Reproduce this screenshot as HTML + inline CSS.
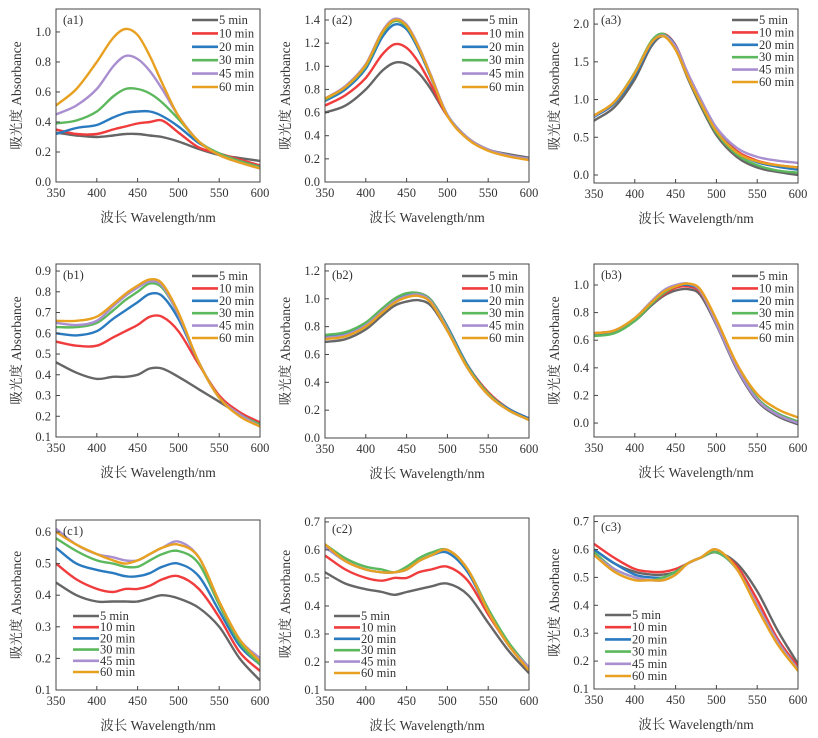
<!DOCTYPE html>
<html><head><meta charset="utf-8">
<style>
html,body{margin:0;padding:0;background:#fff;}
svg{display:block;}
text{font-family:"Liberation Serif","Noto Serif CJK SC",serif;fill:#333;}
</style></head>
<body>
<svg id="fig" width="818" height="738" viewBox="0 0 818 738" xmlns="http://www.w3.org/2000/svg"></svg>
<script>
const wavelengths = [350,375,400,420,435,450,465,480,500,525,550,575,600];
const seriesNames = ["5 min","10 min","20 min","30 min","45 min","60 min"];
const colors = ["#666666","#f03c3c","#2a7ac0","#5cb85c","#a98fd0","#e8a020"];
const xTicks = [350,400,450,500,550,600];

const a1 = [
 [.33,.31,.30,.31,.32,.32,.31,.30,.27,.22,.18,.16,.14],
 [.35,.32,.32,.35,.37,.39,.40,.41,.33,.23,.19,.15,.11],
 [.32,.36,.38,.43,.46,.47,.47,.44,.37,.26,.19,.14,.10],
 [.39,.41,.47,.57,.62,.62,.59,.53,.42,.27,.19,.14,.10],
 [.45,.51,.62,.77,.84,.82,.74,.62,.44,.27,.18,.13,.09],
 [.51,.62,.80,.96,1.02,.98,.84,.66,.44,.27,.18,.13,.09]];
const a2 = [
 [.60,.66,.80,.96,1.03,1.02,.94,.80,.57,.38,.28,.24,.21],
 [.66,.75,.90,1.10,1.19,1.16,1.03,.84,.57,.38,.28,.23,.20],
 [.70,.80,.98,1.25,1.36,1.32,1.14,.90,.58,.38,.28,.23,.20],
 [.71,.82,1.00,1.28,1.39,1.34,1.16,.91,.58,.38,.28,.23,.20],
 [.72,.83,1.02,1.30,1.41,1.36,1.17,.92,.58,.38,.28,.23,.20],
 [.72,.82,1.01,1.29,1.40,1.35,1.16,.91,.57,.37,.27,.22,.19]];
const a3 = [
 [.72,.90,1.27,1.70,1.84,1.66,1.28,.93,.53,.24,.10,.04,.00],
 [.77,.95,1.33,1.74,1.87,1.72,1.34,1.00,.60,.32,.19,.13,.10],
 [.77,.95,1.32,1.73,1.86,1.71,1.33,.99,.59,.30,.17,.11,.07],
 [.78,.97,1.36,1.77,1.87,1.68,1.30,.96,.56,.27,.13,.06,.03],
 [.78,.97,1.35,1.75,1.85,1.70,1.35,1.02,.63,.36,.24,.19,.16],
 [.79,.97,1.35,1.75,1.84,1.66,1.30,.97,.58,.30,.18,.13,.10]];
const b1 = [
 [.46,.41,.38,.39,.39,.40,.43,.43,.39,.33,.27,.21,.16],
 [.56,.54,.54,.58,.61,.64,.68,.68,.61,.45,.30,.22,.17],
 [.60,.59,.61,.67,.71,.75,.79,.78,.67,.46,.29,.21,.16],
 [.63,.63,.65,.71,.76,.80,.84,.82,.69,.46,.29,.21,.16],
 [.65,.64,.66,.73,.78,.82,.85,.83,.69,.46,.29,.21,.15],
 [.66,.66,.68,.74,.79,.83,.86,.84,.70,.46,.29,.20,.15]];
const b2 = [
 [.69,.71,.78,.88,.95,.98,.99,.95,.77,.50,.31,.20,.13],
 [.72,.74,.81,.91,.98,1.02,1.04,.99,.80,.52,.33,.21,.14],
 [.73,.75,.82,.92,.99,1.03,1.04,.99,.80,.52,.32,.21,.14],
 [.74,.76,.83,.93,1.00,1.04,1.04,.99,.79,.51,.32,.20,.13],
 [.72,.74,.81,.91,.98,1.02,1.03,.98,.78,.50,.31,.20,.13],
 [.71,.73,.80,.90,.97,1.01,1.02,.97,.77,.50,.31,.20,.13]];
const b3 = [
 [.64,.66,.74,.85,.92,.96,.97,.93,.71,.39,.16,.05,-.01],
 [.65,.67,.75,.86,.93,.98,.99,.95,.73,.41,.18,.07,.01],
 [.64,.66,.75,.86,.94,.99,1.00,.96,.73,.41,.18,.07,.01],
 [.63,.65,.74,.86,.94,.99,1.01,.96,.73,.41,.18,.07,.01],
 [.65,.67,.76,.88,.96,1.00,1.01,.96,.72,.40,.17,.06,.00],
 [.65,.67,.76,.87,.95,.99,1.01,.97,.75,.43,.21,.10,.04]];
const c1 = [
 [.44,.40,.38,.38,.38,.38,.39,.40,.39,.36,.30,.20,.13],
 [.50,.45,.42,.41,.42,.42,.43,.45,.46,.42,.33,.22,.16],
 [.55,.50,.48,.47,.46,.46,.47,.49,.50,.46,.35,.24,.18],
 [.58,.54,.51,.50,.49,.49,.51,.53,.54,.50,.37,.25,.18],
 [.61,.56,.53,.52,.51,.51,.53,.55,.57,.52,.38,.26,.20],
 [.60,.56,.53,.51,.50,.51,.53,.55,.56,.52,.38,.26,.19]];
const c2 = [
 [.52,.48,.46,.45,.44,.45,.46,.47,.48,.44,.34,.24,.16],
 [.58,.53,.50,.49,.50,.50,.52,.53,.54,.49,.37,.26,.17],
 [.61,.56,.53,.52,.52,.53,.56,.58,.59,.52,.38,.26,.18],
 [.62,.57,.54,.53,.52,.54,.57,.59,.60,.53,.39,.27,.18],
 [.61,.56,.53,.52,.52,.53,.56,.58,.60,.53,.38,.26,.18],
 [.62,.56,.53,.52,.52,.53,.56,.58,.60,.53,.38,.26,.17]];
const c3 = [
 [.60,.55,.52,.51,.51,.52,.55,.57,.59,.55,.45,.31,.19],
 [.62,.57,.53,.52,.52,.53,.55,.57,.59,.54,.42,.28,.18],
 [.60,.55,.51,.50,.50,.52,.55,.57,.59,.53,.40,.27,.17],
 [.59,.53,.50,.49,.50,.52,.55,.57,.59,.53,.40,.27,.17],
 [.58,.53,.50,.49,.49,.51,.55,.57,.60,.53,.40,.27,.17],
 [.58,.52,.49,.49,.49,.51,.55,.57,.60,.53,.39,.26,.165]];

const yTicksA1=[0,0.2,0.4,0.6,0.8,1.0], yTicksA2=[0,0.2,0.4,0.6,0.8,1.0,1.2,1.4], yTicksA3=[0,0.5,1.0,1.5,2.0];
const yTicksB1=[0.1,0.2,0.3,0.4,0.5,0.6,0.7,0.8,0.9], yTicksB2=[0,0.2,0.4,0.6,0.8,1.0,1.2], yTicksB3=[0,0.2,0.4,0.6,0.8,1.0];
const yTicksC=[0.1,0.2,0.3,0.4,0.5,0.6,0.7], yTicksC1=[0.1,0.2,0.3,0.4,0.5,0.6];

const NS="http://www.w3.org/2000/svg";
const svg=document.getElementById('fig');
function mk(tag,attrs,parent){const e=document.createElementNS(NS,tag);for(const k in attrs)e.setAttribute(k,attrs[k]);(parent||svg).appendChild(e);return e;}

const panels=[
 {id:"a1",data:a1,x0:56,x1:260,top:9,bot:182,ymin:0,ymax:1.153,ticks:yTicksA1,leg:[192,20],sp:13.4},
 {id:"a2",data:a2,x0:325,x1:529,top:9,bot:182,ymin:0,ymax:1.495,ticks:yTicksA2,leg:[462,20],sp:13.4},
 {id:"a3",data:a3,x0:594,x1:798,top:9,bot:183,ymin:-0.106,ymax:2.2,ticks:yTicksA3,leg:[732,20],sp:12.4},
 {id:"b1",data:b1,x0:56,x1:260,top:264,bot:437,ymin:0.1,ymax:0.934,ticks:yTicksB1,leg:[192,276],sp:12.4},
 {id:"b2",data:b2,x0:325,x1:529,top:264,bot:438,ymin:0,ymax:1.25,ticks:yTicksB2,leg:[462,276],sp:12.4},
 {id:"b3",data:b3,x0:594,x1:798,top:264,bot:437,ymin:-0.101,ymax:1.152,ticks:yTicksB3,leg:[732,276],sp:12.4},
 {id:"c1",data:c1,x0:56,x1:260,top:520,bot:690,ymin:0.1,ymax:0.638,ticks:yTicksC1,leg:[73,616],sp:11.2},
 {id:"c2",data:c2,x0:325,x1:529,top:518,bot:690,ymin:0.1,ymax:0.714,ticks:yTicksC,leg:[334,616],sp:11.4},
 {id:"c3",data:c3,x0:594,x1:798,top:516,bot:689,ymin:0.1,ymax:0.72,ticks:yTicksC,leg:[605,615],sp:12.2}
];

panels.forEach(p=>{
  const g=mk('g',{});
  
  
  const X=v=>p.x0+(v-350)/250*(p.x1-p.x0);
  const Y=v=>p.bot-(v-p.ymin)/(p.ymax-p.ymin)*(p.bot-p.top);
  const cid='clip-'+p.id;
  const cp=mk('clipPath',{id:cid},g); mk('rect',{x:p.x0,y:p.top,width:p.x1-p.x0,height:p.bot-p.top},cp);
  p.data.forEach((s,si)=>{
    const pts=s.map((v,i)=>[X(wavelengths[i]),Y(v)]);
    const n=pts.length;
    const m=pts.map((q,i)=>{
      const a=pts[Math.max(0,i-1)],b=pts[Math.min(n-1,i+1)];
      return (b[1]-a[1])/(b[0]-a[0]);
    });
    let d='M'+pts[0][0].toFixed(1)+','+pts[0][1].toFixed(1);
    for(let i=0;i<n-1;i++){
      const p1=pts[i],p2=pts[i+1],dx=(p2[0]-p1[0])/3;
      d+=` C${(p1[0]+dx).toFixed(1)},${(p1[1]+m[i]*dx).toFixed(1)} ${(p2[0]-dx).toFixed(1)},${(p2[1]-m[i+1]*dx).toFixed(1)} ${p2[0].toFixed(1)},${p2[1].toFixed(1)}`;
    }
    const path=mk('path',{d:d,fill:'none',stroke:colors[si],'stroke-width':2.4,'clip-path':`url(#${cid})`},g);
    
    
  });
  const fr=mk('rect',{x:p.x0,y:p.top,width:p.x1-p.x0,height:p.bot-p.top,fill:'none',stroke:'#444','stroke-width':1},g);
  
  
  xTicks.forEach(t=>{
    mk('line',{x1:X(t),x2:X(t),y1:p.bot,y2:p.bot-4,stroke:'#444'},g);
    const tx=mk('text',{x:X(t),y:p.bot+15,'text-anchor':'middle','font-size':12.5},g);
    tx.textContent=t;
    
    
  });
  p.ticks.forEach(t=>{
    mk('line',{x1:p.x0,x2:p.x0+4,y1:Y(t),y2:Y(t),stroke:'#444'},g);
    const tx=mk('text',{x:p.x0-5,y:Y(t)+4,'text-anchor':'end','font-size':12.5},g);
    tx.textContent=t.toFixed(1);
    
    
  });
  const lb=mk('text',{x:p.x0+7,y:p.top+15,'font-size':12.5},g);
  lb.textContent='('+p.id+')';
  
  
  const xt=mk('text',{x:(p.x0+p.x1)/2,y:p.bot+40,'text-anchor':'middle','font-size':13.5},g);
  xt.textContent='波长 Wavelength/nm';
  
  
  const cy=(p.top+p.bot)/2, cx=p.x0-35;
  const yt=mk('text',{x:cx,y:cy,'text-anchor':'middle','font-size':13.5,transform:`rotate(-90 ${cx} ${cy})`},g);
  yt.textContent='吸光度 Absorbance';
  
  
  const lg=mk('g',{},g);
  
  
  seriesNames.forEach((n,i)=>{
    const y=p.leg[1]+i*p.sp;
    const e=mk('g',{},lg);
    
    
    mk('line',{x1:p.leg[0],x2:p.leg[0]+26,y1:y,y2:y,stroke:colors[i],'stroke-width':2.6},e);
    const t=mk('text',{x:p.leg[0]+27,y:y+4,'font-size':12.5},e);
    t.textContent=n;
  });
});
</script>
</body></html>
